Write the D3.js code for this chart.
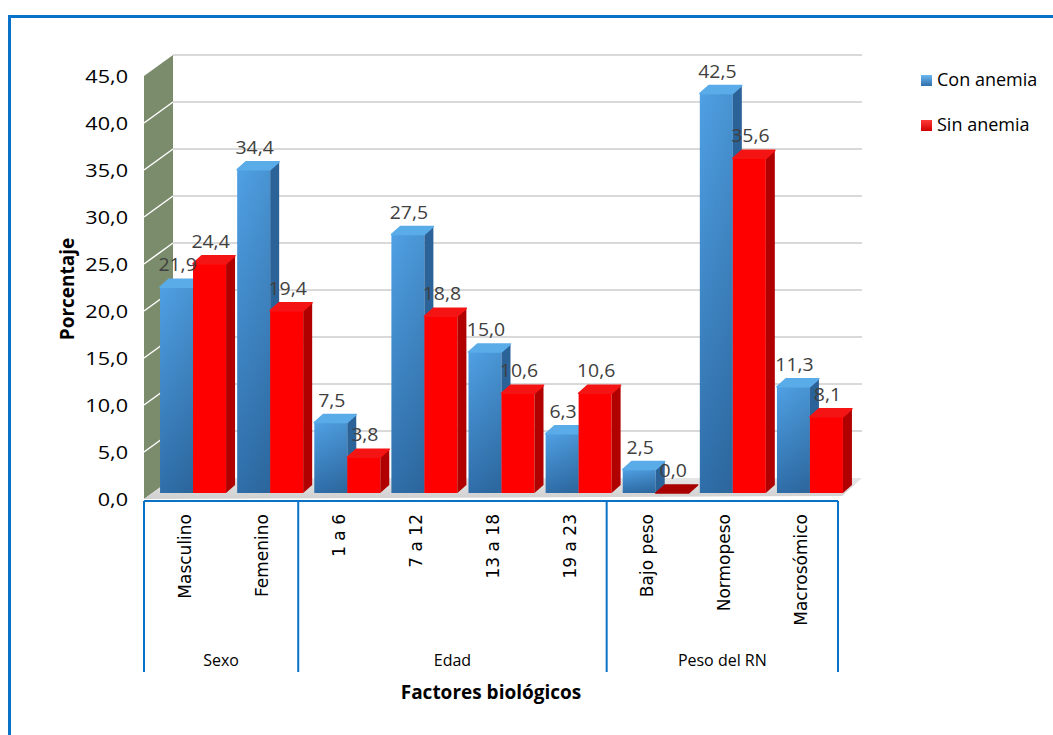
<!DOCTYPE html>
<html>
<head>
<meta charset="utf-8">
<script src="https://cdn.jsdelivr.net/npm/d3@7"></script>
<style>
  html, body { margin: 0; padding: 0; background: #ffffff; }
  svg { display: block; }
</style>
</head>
<body>
<svg id="chart" width="1053" height="735"></svg>
<script>
// Chart data
const categories = ["Masculino", "Femenino", "1 a 6", "7 a 12", "13 a 18", "19 a 23", "Bajo peso", "Normopeso", "Macrosómico"];
const groupNames = ["Sexo", "Edad", "Peso del RN"];
const groupSizes = [2, 4, 3];
const seriesNames = ["Con anemia", "Sin anemia"];
const conAnemia = [21.9, 34.4, 7.5, 27.5, 15.0, 6.3, 2.5, 42.5, 11.3];
const sinAnemia = [24.4, 19.4, 3.8, 18.8, 10.6, 10.6, 0.0, 35.6, 8.1];
const yTicks = [0, 5, 10, 15, 20, 25, 30, 35, 40, 45];
const yTitle = "Porcentaje";
const xTitle = "Factores biológicos";

const svg = d3.select("#chart");
const fmt = v => d3.format(".1f")(v).replace(".", ",");

// Plot geometry: front plane of the 3D box and its depth vector
const left = 144, right = 838, floorY = 499;
const depth = { x: 29, y: -21 };
const barShift = { x: 10.5, y: -6 };  // where the bars stand inside the box
const barThick = { x: 9, y: -8 };     // visible bar side/top thickness

const x = d3.scaleBand().domain(categories).range([left, right]).padding(0);
const xs = d3.scaleBand().domain(seriesNames)
  .range([(x.bandwidth() - 66) / 2, (x.bandwidth() + 66) / 2]).padding(0);
const yLen = d3.scaleLinear().domain([0, 45]).range([0, 423]);
const yFront = v => floorY - yLen(v);
const yBack = v => floorY + depth.y - yLen(v);

const defs = svg.append("defs");
const gBlue = defs.append("linearGradient").attr("id", "blueFront")
  .attr("x1", 0).attr("y1", 0).attr("x2", 0).attr("y2", 1);
gBlue.append("stop").attr("offset", "0%").attr("stop-color", "#4fa0e4");
gBlue.append("stop").attr("offset", "100%").attr("stop-color", "#2f6ea9");
const gBlueH = defs.append("linearGradient").attr("id", "blueShade")
  .attr("x1", 0).attr("y1", 0).attr("x2", 1).attr("y2", 0);
gBlueH.append("stop").attr("offset", "0%").attr("stop-color", "#000").attr("stop-opacity", 0.0);
gBlueH.append("stop").attr("offset", "100%").attr("stop-color", "#000").attr("stop-opacity", 0.08);
const gFloor = defs.append("linearGradient").attr("id", "floorFill")
  .attr("x1", 0).attr("y1", 0).attr("x2", 0).attr("y2", 1);
gFloor.append("stop").attr("offset", "0%").attr("stop-color", "#e6e6e6");
gFloor.append("stop").attr("offset", "100%").attr("stop-color", "#d0d0d0");
const gLeg1 = defs.append("linearGradient").attr("id", "legBlue")
  .attr("x1", 0).attr("y1", 0).attr("x2", 0).attr("y2", 1);
gLeg1.append("stop").attr("offset", "0%").attr("stop-color", "#6cb8f2");
gLeg1.append("stop").attr("offset", "100%").attr("stop-color", "#2f6ea9");
const gLeg2 = defs.append("linearGradient").attr("id", "legRed")
  .attr("x1", 0).attr("y1", 0).attr("x2", 0).attr("y2", 1);
gLeg2.append("stop").attr("offset", "0%").attr("stop-color", "#ff3a3a");
gLeg2.append("stop").attr("offset", "100%").attr("stop-color", "#d00000");

// Outer frame
svg.append("rect").attr("x", 9.5).attr("y", 16.5).attr("width", 1100).attr("height", 800)
  .attr("fill", "none").attr("stroke", "#0a72c6").attr("stroke-width", 3);

const pts = a => a.map(p => p.join(",")).join(" ");

// Left wall
svg.append("polygon")
  .attr("points", pts([[left, yFront(45)], [left + depth.x, yBack(45)], [left + depth.x, yBack(0)], [left, yFront(0)]]))
  .attr("fill", "#7b8c6c");
svg.append("g").selectAll("line").data(yTicks.slice(1, -1)).join("line")
  .attr("x1", left).attr("x2", left + depth.x)
  .attr("y1", d => yFront(d)).attr("y2", d => yBack(d))
  .attr("stroke", "#ffffff").attr("stroke-width", 1.5);

// Back wall gridlines
svg.append("g").selectAll("line").data(yTicks.slice(1)).join("line")
  .attr("x1", left + depth.x).attr("x2", right + depth.x - 5)
  .attr("y1", d => yBack(d)).attr("y2", d => yBack(d))
  .attr("stroke", "#d9d9d9").attr("stroke-width", 2);

// Floor
svg.append("polygon")
  .attr("points", pts([[left, floorY], [left + depth.x, floorY + depth.y], [right + depth.x - 5, floorY + depth.y], [right + 4, floorY - 3]]))
  .attr("fill", "url(#floorFill)");

// Y tick labels
svg.append("g").selectAll("text").data(yTicks).join("text")
  .attr("transform", d => `translate(128,${yFront(d) + 2}) scale(1.2,1)`)
  .attr("text-anchor", "end").attr("dominant-baseline", "middle")
  .attr("font-family", "Open Sans, sans-serif").attr("font-size", 18).attr("fill", "#000")
  .text(d => fmt(d));

// Bars data
const bars = [];
categories.forEach((c, i) => {
  bars.push({ cat: c, s: seriesNames[0], v: conAnemia[i] });
  bars.push({ cat: c, s: seriesNames[1], v: sinAnemia[i] });
});
const bx = d => x(d.cat) + xs(d.s) + barShift.x;
const bTop = d => yFront(d.v) + barShift.y;
const bBot = floorY + barShift.y;
const bw = xs.bandwidth();

// 3D bars
const colors = {
  "Con anemia": { front: "url(#blueFront)", side: "#2b6399", top: "#5aace9", flat: "#2b6399" },
  "Sin anemia": { front: "#ff0000", side: "#b00000", top: "#f51414", flat: "#a80000" }
};
const bg = svg.append("g").selectAll("g").data(bars).join("g");
bg.append("rect")
  .attr("x", d => bx(d)).attr("y", d => bTop(d))
  .attr("width", bw).attr("height", d => bBot - bTop(d))
  .attr("fill", d => colors[d.s].front);
bg.filter(d => d.s === seriesNames[0]).append("rect")
  .attr("x", d => bx(d)).attr("y", d => bTop(d))
  .attr("width", bw).attr("height", d => bBot - bTop(d))
  .attr("fill", "url(#blueShade)");
bg.append("polygon")
  .attr("points", d => pts([[bx(d) + bw, bBot], [bx(d) + bw, bTop(d)], [bx(d) + bw + barThick.x, bTop(d) + barThick.y], [bx(d) + bw + barThick.x, bBot + barThick.y]]))
  .attr("fill", d => colors[d.s].side);
bg.append("polygon")
  .attr("points", d => pts([[bx(d), bTop(d)], [bx(d) + bw, bTop(d)], [bx(d) + bw + barThick.x, bTop(d) + barThick.y], [bx(d) + barThick.x, bTop(d) + barThick.y]]))
  .attr("fill", d => d.v === 0 ? colors[d.s].flat : colors[d.s].top)
  .attr("stroke", d => d.v === 0 ? colors[d.s].flat : colors[d.s].top)
  .attr("stroke-linejoin", "round").attr("stroke-width", 1.5);

// Value labels
svg.append("g").selectAll("text").data(bars).join("text")
  .attr("transform", d => `translate(${bx(d) + bw / 2 + 1},${bTop(d) - 16}) scale(1.08,1)`)
  .attr("text-anchor", "middle")
  .attr("font-family", "Open Sans, sans-serif").attr("font-size", 18).attr("fill", "#404040")
  .text(d => fmt(d.v));

// Category axis with grouped labels
const axisTop = 501, axisBottom = 672;
const ax = svg.append("g").attr("stroke", "#0a72c6").attr("stroke-width", 2);
ax.append("line").attr("x1", left).attr("x2", right).attr("y1", axisTop).attr("y2", axisTop);
const bounds = [0];
groupSizes.forEach(n => bounds.push(bounds[bounds.length - 1] + n));
const boundX = k => k < categories.length ? x(categories[k]) : right;
ax.selectAll("line.sep").data(bounds).join("line").attr("class", "sep")
  .attr("x1", boundX).attr("x2", boundX).attr("y1", axisTop).attr("y2", axisBottom);

svg.append("g").selectAll("text").data(categories).join("text")
  .attr("transform", d => `translate(${x(d) + x.bandwidth() / 2 + 8},514) rotate(-90)`)
  .attr("text-anchor", "end")
  .attr("font-family", "DejaVu Sans, sans-serif").attr("font-size", 17).attr("fill", "#000")
  .text(d => d);

svg.append("g").selectAll("text").data(groupNames).join("text")
  .attr("x", (d, i) => (boundX(bounds[i]) + boundX(bounds[i + 1])) / 2)
  .attr("y", 666)
  .attr("text-anchor", "middle")
  .attr("font-family", "Open Sans, sans-serif").attr("font-size", 16).attr("fill", "#000")
  .text(d => d);

// Axis titles
svg.append("text")
  .attr("transform", "translate(74,289) rotate(-90)")
  .attr("text-anchor", "middle")
  .attr("font-family", "Open Sans, sans-serif").attr("font-weight", "bold").attr("font-size", 19)
  .text(yTitle);
svg.append("text")
  .attr("x", 491).attr("y", 699)
  .attr("text-anchor", "middle")
  .attr("font-family", "Open Sans, sans-serif").attr("font-weight", "bold").attr("font-size", 19)
  .text(xTitle);

// Legend
const leg = svg.append("g").selectAll("g").data(seriesNames).join("g")
  .attr("transform", (d, i) => `translate(921,${75 + i * 45})`);
leg.append("rect").attr("width", 11).attr("height", 11)
  .attr("fill", (d, i) => i === 0 ? "url(#legBlue)" : "url(#legRed)");
leg.append("text").attr("x", 16).attr("y", 11)
  .attr("font-family", "Open Sans, sans-serif").attr("font-size", 18).attr("fill", "#000")
  .text(d => d);
</script>
</body>
</html>
